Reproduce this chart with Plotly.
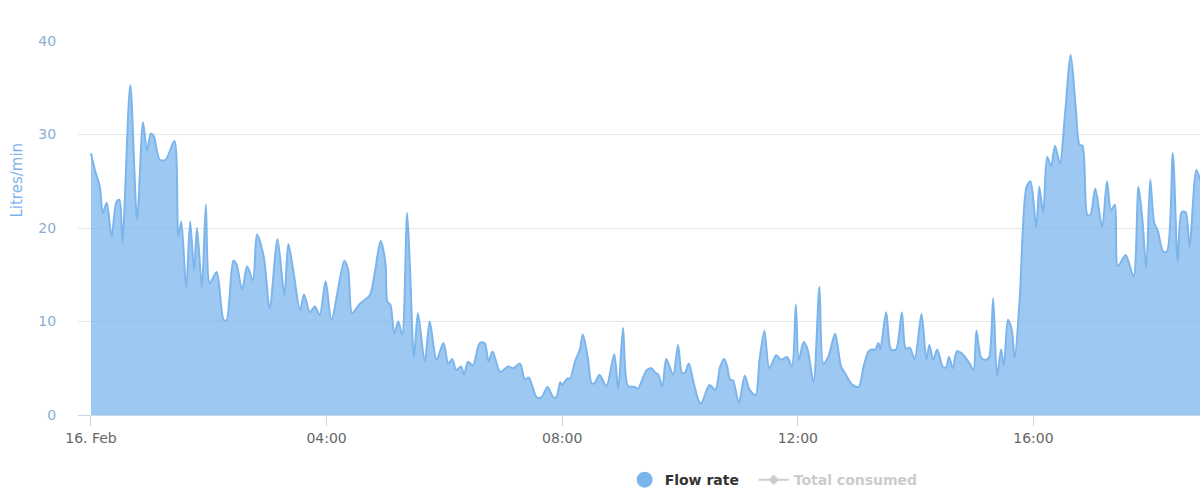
import pandas as pd
import plotly.graph_objects as go

day = "2021-02-16"

times = [
    "00:00", "00:04", "00:09", "00:12", "00:16", "00:21", "00:26", "00:29", "00:32", "00:40",
    "00:47", "00:53", "00:57", "01:01", "01:04", "01:10", "01:16", "01:25", "01:29", "01:32",
    "01:37", "01:41", "01:45", "01:48", "01:53", "01:57", "02:01", "02:08", "02:15", "02:18",
    "02:25", "02:28", "02:34", "02:39", "02:45", "02:49", "02:56", "03:02", "03:10", "03:17",
    "03:21", "03:26", "03:33", "03:37", "03:43", "03:48", "03:53", "03:59", "04:05", "04:18",
    "04:22", "04:26", "04:34", "04:44", "04:49", "04:55", "05:00", "05:02", "05:05", "05:09",
    "05:13", "05:17", "05:22", "05:25", "05:29", "05:33", "05:40", "05:45", "05:52", "05:59",
    "06:04", "06:08", "06:12", "06:17", "06:20", "06:24", "06:29", "06:36", "06:41", "06:45",
    "06:49", "06:57", "07:05", "07:10", "07:17", "07:22", "07:26", "07:34", "07:39", "07:45",
    "07:51", "07:54", "07:58", "08:00", "08:05", "08:08", "08:13", "08:18", "08:21", "08:26",
    "08:30", "08:33", "08:38", "08:45", "08:53", "08:57", "09:02", "09:07", "09:14", "09:17",
    "09:26", "09:31", "09:34", "09:38", "09:42", "09:46", "09:53", "09:58", "10:02", "10:05",
    "10:09", "10:14", "10:20", "10:22", "10:30", "10:36", "10:41", "10:45", "10:48", "10:51",
    "10:54", "11:00", "11:06", "11:11", "11:17", "11:21", "11:26", "11:31", "11:38", "11:43",
    "11:49", "11:54", "11:58", "12:01", "12:06", "12:10", "12:16", "12:22", "12:26", "12:31",
    "12:38", "12:44", "12:48", "12:55", "13:02", "13:07", "13:12", "13:15", "13:19", "13:22",
    "13:24", "13:30", "13:35", "13:40", "13:46", "13:50", "13:54", "13:59", "14:06", "14:11",
    "14:14", "14:18", "14:22", "14:28", "14:31", "14:34", "14:38", "14:42", "14:49", "14:55",
    "14:59", "15:02", "15:07", "15:12", "15:15", "15:19", "15:23", "15:27", "15:30", "15:34",
    "15:38", "15:41", "15:46", "15:53", "15:57", "16:03", "16:06", "16:10", "16:14", "16:18",
    "16:22", "16:27", "16:32", "16:38", "16:43", "16:47", "16:50", "16:55", "16:58", "17:03",
    "17:10", "17:15", "17:19", "17:23", "17:26", "17:34", "17:42", "17:47", "17:51", "17:55",
    "17:59", "18:03", "18:07", "18:12", "18:16", "18:22", "18:27", "18:31", "18:35", "18:39",
    "18:46", "18:50",
]

flow_rate = [
    28.0, 26.2, 24.4, 21.6, 22.7, 19.1, 22.8, 23.0, 18.4, 35.3,
    20.9, 31.3, 28.3, 30.1, 29.8, 27.3, 27.3, 29.3, 19.1, 20.7,
    13.5, 20.7, 15.5, 20.0, 13.7, 22.5, 14.1, 15.3, 10.2, 10.1,
    16.5, 16.2, 13.4, 15.9, 14.4, 19.3, 16.9, 11.4, 18.8, 12.8,
    18.3, 15.5, 11.2, 12.9, 11.0, 11.6, 10.7, 14.3, 10.2, 16.5,
    15.5, 10.9, 11.9, 12.8, 15.2, 18.6, 16.2, 12.1, 11.8, 8.7,
    10.0, 8.6, 21.6, 15.5, 6.1, 10.9, 5.7, 10.0, 5.9, 7.7,
    5.5, 6.0, 4.8, 5.2, 4.3, 5.7, 5.3, 7.7, 7.7, 5.7,
    6.8, 4.6, 5.2, 5.0, 5.5, 3.8, 4.0, 1.9, 1.9, 3.0,
    1.9, 1.9, 3.5, 3.2, 3.9, 3.9, 5.7, 7.0, 8.6, 6.2,
    3.4, 3.4, 4.3, 3.1, 6.5, 2.7, 9.3, 3.1, 3.0, 2.8,
    4.8, 5.0, 4.6, 4.3, 3.0, 6.0, 4.3, 7.5, 4.5, 4.5,
    5.5, 3.4, 1.3, 1.3, 3.2, 2.7, 5.2, 6.0, 5.2, 3.8,
    3.7, 1.3, 4.2, 2.7, 2.1, 5.9, 9.0, 5.0, 6.4, 5.9,
    6.2, 5.2, 11.8, 5.9, 7.8, 7.0, 3.5, 13.7, 5.5, 6.2,
    8.7, 5.2, 4.5, 3.3, 3.0, 5.2, 6.8, 7.0, 7.0, 7.7,
    7.0, 11.0, 7.0, 7.0, 11.0, 7.1, 7.2, 6.0, 10.8, 5.9,
    7.5, 5.9, 7.0, 5.1, 5.1, 6.2, 5.0, 6.8, 6.4, 5.5,
    4.8, 9.0, 6.1, 5.9, 6.2, 12.5, 4.1, 7.0, 5.3, 10.2,
    9.1, 6.1, 12.3, 24.4, 25.0, 20.1, 24.4, 21.6, 27.6, 26.6,
    28.8, 26.9, 31.9, 38.5, 33.0, 28.9, 28.8, 21.4, 21.4, 24.2,
    20.1, 25.0, 21.9, 22.5, 15.9, 17.1, 14.8, 24.4, 20.9, 15.7,
    25.2, 20.6, 19.6, 17.5, 17.5, 28.0, 16.4, 21.7, 21.7, 18.0,
    26.2, 25.1,
]

# "Total consumed" is switched off in the reference: legend entry only
total_times = [None]
total_consumed = [None]

x_range = ["2021-02-15 23:46:46", "2021-02-16 18:49:42"]
tick_times = ["00:00", "04:00", "08:00", "12:00", "16:00"]
tick_labels = ["16. Feb", "04:00", "08:00", "12:00", "16:00"]
y_ticks = [0, 10, 20, 30, 40]

x = pd.to_datetime([f"{day} {t}" for t in times])
tick_vals = pd.to_datetime([f"{day} {t}" for t in tick_times])

FONT = "DejaVu Sans"
BLUE = "#7cb5ec"
NBSP = "\u00a0"

fig = go.Figure()
fig.add_trace(go.Scatter(
    x=x, y=flow_rate, mode="lines", name="Flow rate",
    line=dict(color=BLUE, width=2, shape="spline", smoothing=0.8),
    fill="tozeroy", fillcolor="rgba(124,181,236,0.75)",
    showlegend=False, hoverinfo="x+y",
))
# legend entries
fig.add_trace(go.Scatter(
    x=[None], y=[None], mode="markers", name="<b>Flow rate" + NBSP * 2 + "</b>",
    marker=dict(symbol="circle", size=16, color=BLUE),
))
fig.add_trace(go.Scatter(
    x=total_times, y=total_consumed, mode="lines+markers",
    name='<b><span style="color:#cccccc">Total consumed</span></b>',
    line=dict(color="#cccccc", width=2),
    marker=dict(symbol="diamond", size=8, color="#cccccc"),
))

fig.update_layout(
    width=1200, height=498,
    margin=dict(l=78, r=0, t=41, b=83),
    paper_bgcolor="white", plot_bgcolor="white",
    font=dict(family=FONT, size=14, color="#666666"),
    showlegend=True,
    legend=dict(
        orientation="h", x=0.62, xanchor="center", y=-0.174, yanchor="middle",
        font=dict(family=FONT, size=14, color="#333333"),
        bgcolor="rgba(0,0,0,0)", itemwidth=30,
    ),
    xaxis=dict(
        type="date", range=x_range,
        tickvals=tick_vals, ticktext=tick_labels,
        showgrid=False, zeroline=False,
        showline=True, linecolor="#ccd6eb", linewidth=1,
        ticks="outside", ticklen=10, tickcolor="#ccd6eb",
        tickfont=dict(family=FONT, size=14, color="#666666"),
    ),
    yaxis=dict(
        range=[0, 40], tickvals=y_ticks,
        showgrid=True, gridcolor="#e6e6e6", gridwidth=1,
        zeroline=False, showline=False,
        ticks="outside", ticklen=18, tickcolor="rgba(0,0,0,0)",
        tickfont=dict(family=FONT, size=14, color="#8aaed4"),
    ),
    annotations=[dict(
        text="Litres/min", textangle=-90, xref="paper", yref="paper",
        x=-0.054, y=0.628, xanchor="center", yanchor="middle", showarrow=False,
        font=dict(family=FONT, size=15, color=BLUE),
    )],
)

fig.write_html("out.html")
